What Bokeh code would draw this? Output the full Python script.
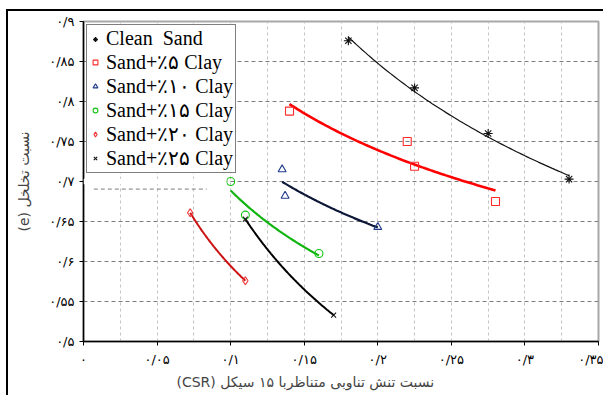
import numpy as np
from bokeh.plotting import figure
from bokeh.models import (Range1d, FixedTicker, CustomJSTickFormatter, Legend,
                          LegendItem, Title, BoxAnnotation)
from bokeh.embed import file_html
from bokeh.resources import INLINE

# Cyclic stress ratio (15 cycles) versus void ratio for each soil mix
clean_csr = [0.18, 0.225, 0.275, 0.33]
clean_e = [0.876, 0.817, 0.760, 0.703]
clay5_csr = [0.14, 0.22, 0.225, 0.28]
clay5_e = [0.788, 0.750, 0.719, 0.675]
clay10_csr = [0.135, 0.137, 0.20]
clay10_e = [0.715, 0.682, 0.643]
clay15_csr = [0.10, 0.11, 0.16]
clay15_e = [0.700, 0.658, 0.610]
clay20_csr = [0.0725, 0.11]
clay20_e = [0.661, 0.576]
clay25_csr = [0.11, 0.17]
clay25_e = [0.653, 0.533]

series_labels = ["Clean  Sand", "Sand+٪۵ Clay", "Sand+٪۱۰ Clay",
                 "Sand+٪۱۵ Clay", "Sand+٪۲۰ Clay", "Sand+٪۲۵ Clay"]

x_ticks = [0, 0.05, 0.1, 0.15, 0.2, 0.25, 0.3, 0.35]
x_tick_labels = ["۰", "۰/۰۵", "۰/۱", "۰/۱۵", "۰/۲", "۰/۲۵", "۰/۳", "۰/۳۵"]
y_ticks = [0.5, 0.55, 0.6, 0.65, 0.7, 0.75, 0.8, 0.85, 0.9]
y_tick_labels = ["۰/۵", "۰/۵۵", "۰/۶", "۰/۶۵", "۰/۷", "۰/۷۵", "۰/۸", "۰/۸۵", "۰/۹"]

x_title = "(CSR) نسبت تنش تناوبی متناظربا ۱۵ سیکل"
y_title = "(e) نسبت تخلخل"

PERSIAN_FONT = "DejaVu Sans"
LATIN_FONT = "Liberation Serif"


def power_trend(xs, ys, n=80):
    """Least-squares power trend line y = a * x^b over the span of the data."""
    b, ln_a = np.polyfit(np.log(xs), np.log(ys), 1)
    xx = np.linspace(min(xs), max(xs), n)
    return xx, np.exp(ln_a) * xx ** b


p = figure(width=597, height=386, output_backend="svg", toolbar_location=None,
           x_range=Range1d(0, 0.35), y_range=Range1d(0.5, 0.9),
           min_border_left=75, min_border_right=7, min_border_top=10,
           min_border_bottom=56,
           styles={"margin-left": "6px", "margin-top": "9px",
                   "border-left": "2px solid black",
                   "border-top": "2px solid black"})
p.background_fill_color = "white"
p.border_fill_color = "white"
p.outline_line_color = "#a8a8a8"
p.outline_line_width = 2

# grid: dark dashed rows at each major y tick, light dashed columns every 0.025
p.ygrid.ticker = FixedTicker(ticks=y_ticks)
p.ygrid.grid_line_color = "#7c7c7c"
p.ygrid.grid_line_dash = "4 3"
p.ygrid.grid_line_width = 1
p.xgrid.ticker = FixedTicker(ticks=[round(0.025 * i, 3) for i in range(1, 14)])
p.xgrid.grid_line_color = "#c4c4c4"
p.xgrid.grid_line_dash = "3 3"
p.xgrid.grid_line_width = 1

# the 0.7 row is offset slightly downward under the legend
p.add_layout(BoxAnnotation(left=0, right=0.0972, bottom=0.6965, top=0.7035,
                           fill_color="white", fill_alpha=1.0, line_color=None))
p.segment(x0=[0.007], y0=[0.6905], x1=[0.0837], y1=[0.6905],
          line_color="#7c7c7c", line_dash="4 3", line_width=1)

label_js = """
const i = tick_values.findIndex(t => Math.abs(t - tick) < 1e-9);
return i >= 0 ? tick_text[i] : "";
"""
p.xaxis.ticker = FixedTicker(ticks=x_ticks)
p.xaxis.formatter = CustomJSTickFormatter(
    args=dict(tick_values=x_ticks, tick_text=x_tick_labels), code=label_js)
p.yaxis.ticker = FixedTicker(ticks=y_ticks)
p.yaxis.formatter = CustomJSTickFormatter(
    args=dict(tick_values=y_ticks, tick_text=y_tick_labels), code=label_js)

for ax in (p.xaxis, p.yaxis):
    ax.axis_line_color = "black"
    ax.axis_line_width = 1.5
    ax.major_tick_line_color = "black"
    ax.major_tick_out = 4
    ax.major_tick_in = 0
    ax.minor_tick_line_color = None
    ax.major_label_text_font = PERSIAN_FONT
    ax.major_label_text_font_size = "13px"
    ax.major_label_text_color = "black"

p.xaxis.major_label_standoff = 6
p.yaxis.major_label_standoff = 5

p.yaxis.axis_label = y_title
p.yaxis.axis_label_text_font = PERSIAN_FONT
p.yaxis.axis_label_text_font_size = "14px"
p.yaxis.axis_label_text_font_style = "normal"
p.yaxis.axis_label_standoff = 14

p.add_layout(Title(text=x_title, align="left", offset=93,
                   text_font=PERSIAN_FONT, text_font_size="14px",
                   text_font_style="normal", standoff=4), "below")

# series: (x, y, marker, marker colour, marker size, line colour, line width)
series = [
    (clean_csr, clean_e, "asterisk", "#111111", 9, "#111111", 1.2),
    (clay5_csr, clay5_e, "square", "#ff2a2a", 8, "#ff0000", 2.6),
    (clay10_csr, clay10_e, "triangle", "#1f3a8a", 8, "#0d1838", 2.2),
    (clay15_csr, clay15_e, "circle", "#12c412", 8, "#0fb40f", 2.2),
    (clay20_csr, clay20_e, "diamond", "#ee3030", 8, "#cc1111", 2.0),
    (clay25_csr, clay25_e, "x", "#111111", 7, "#000000", 2.0),
]

items = []
for (xs, ys, marker, mcol, msize, lcol, lw), name in zip(series, series_labels):
    tx, ty = power_trend(xs, ys)
    p.line(tx, ty, line_color=lcol, line_width=lw)
for (xs, ys, marker, mcol, msize, lcol, lw), name in zip(series, series_labels):
    r = p.scatter(xs, ys, marker=marker, size=msize, line_color=mcol,
                  fill_color=None, line_width=1.1)
    items.append(LegendItem(label=name, renderers=[r]))

legend = Legend(items=items, location="top_left", margin=3, padding=2,
                spacing=0, glyph_width=12, glyph_height=20, label_height=20,
                label_standoff=5, border_line_color="black",
                border_line_width=1.2, background_fill_color="white",
                background_fill_alpha=1.0, label_text_font=LATIN_FONT,
                label_text_font_size="20px", label_text_color="black")
p.add_layout(legend, "center")

open("out.html", "w").write(file_html(p, INLINE))
